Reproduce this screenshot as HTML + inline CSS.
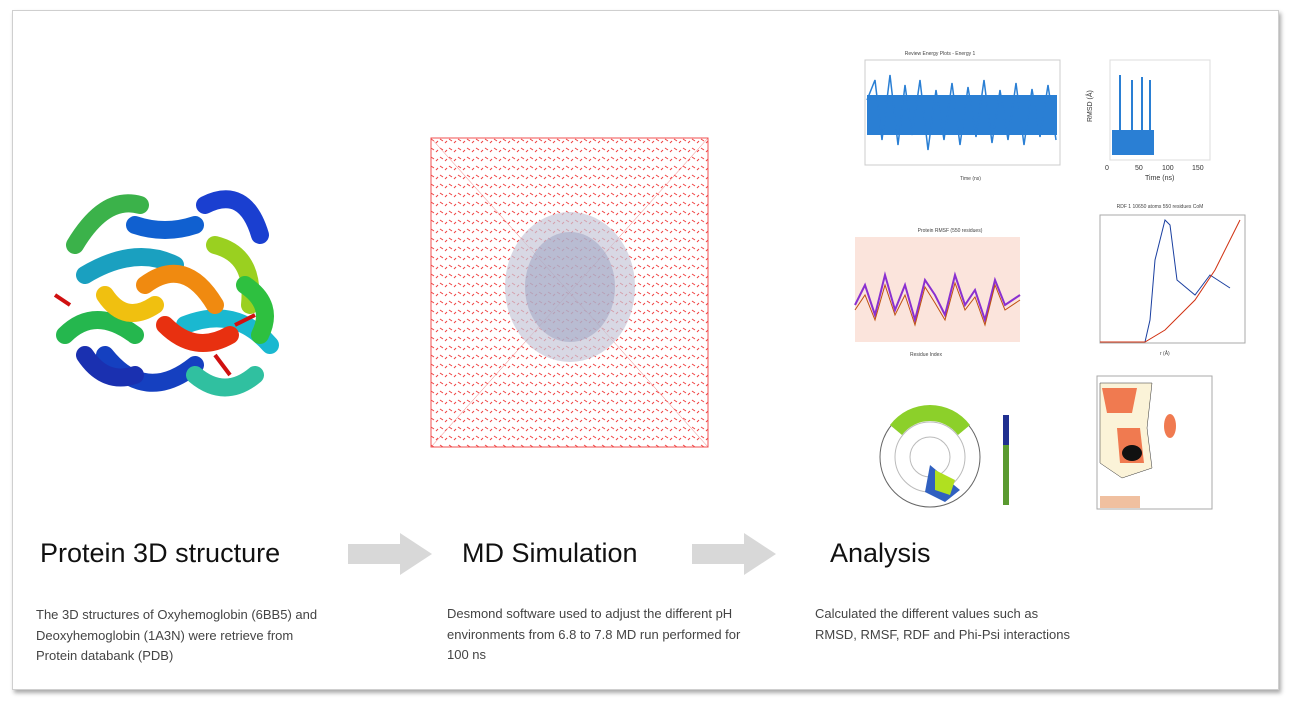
<!DOCTYPE html>
<html><head><meta charset="utf-8"><style>
body{margin:0;width:1290px;height:704px;background:#fff;position:relative;overflow:hidden;font-family:"Liberation Sans",sans-serif}
.frame{position:absolute;left:12px;top:10px;width:1265px;height:678px;border:1px solid #cfcfcf;box-shadow:2px 3px 4px #aaa;background:#fff}
.t{position:absolute;font-size:27px;color:#111}
.d{position:absolute;font-size:13px;color:#444;line-height:20.5px}
.arrow{position:absolute}
</style></head><body>
<div class="frame"></div>

<!-- Protein -->
<svg style="position:absolute;left:45px;top:185px" width="245" height="230">
<g fill="none" stroke-width="18" stroke-linecap="round">
<path d="M30 60 Q60 10 95 20" stroke="#3bb24a"/>
<path d="M160 20 Q200 0 215 50" stroke="#1a3fd0"/>
<path d="M40 90 Q90 60 130 80" stroke="#1aa0c0"/>
<path d="M20 150 Q50 120 90 150" stroke="#25b74e"/>
<path d="M60 170 Q100 220 150 180" stroke="#1540c0"/>
<path d="M140 140 Q190 120 225 160" stroke="#1ab8d0"/>
<path d="M100 100 Q140 70 170 120" stroke="#f08a10"/>
<path d="M120 140 Q150 170 185 150" stroke="#e83010"/>
<path d="M170 60 Q210 70 205 120" stroke="#9ad020"/>
<path d="M60 110 Q80 140 110 120" stroke="#f0c010"/>
<path d="M150 190 Q180 215 210 190" stroke="#30c0a0"/>
<path d="M200 100 Q230 120 215 150" stroke="#2ec040"/>
<path d="M90 40 Q120 50 150 40" stroke="#1060d0"/>
<path d="M40 170 Q60 200 90 190" stroke="#1a30b0"/>
</g>
<path d="M10 110 l15 10 M190 140 l20 -10 M170 170 l15 20" stroke="#d01010" stroke-width="4"/>
</svg>

<!-- MD box -->
<svg style="position:absolute;left:430px;top:137px" width="280" height="312">
<defs><pattern id="p" width="9" height="9" patternUnits="userSpaceOnUse"><path d="M1 2 l3 2 M6 6 l2 -2" stroke="#f04040" stroke-width="1"/></pattern></defs>
<rect x="1" y="1" width="277" height="309" fill="url(#p)" stroke="#f05050"/>
<line x1="1" y1="1" x2="278" y2="310" stroke="#f07070" stroke-width=".5"/>
<line x1="278" y1="1" x2="1" y2="310" stroke="#f07070" stroke-width=".5"/>
<ellipse cx="140" cy="150" rx="65" ry="75" fill="#c8c8d8" opacity=".7"/>
<ellipse cx="140" cy="150" rx="45" ry="55" fill="#9aa0c0" opacity=".5"/>
</svg>

<!-- energy plot -->
<svg style="position:absolute;left:830px;top:45px" width="240" height="145" font-size="5" fill="#444">
<text x="110" y="10" text-anchor="middle">Review Energy Plots - Energy 1</text>
<rect x="35" y="15" width="195" height="105" fill="#fff" stroke="#ccc"/>
<rect x="37" y="50" width="190" height="40" fill="#2a7fd4"/>
<polyline points="37,55 45,35 52,95 60,30 68,100 75,40 82,90 90,35 98,105 106,45 114,95 122,38 130,100 138,42 146,92 154,35 162,98 170,45 178,95 186,38 194,100 202,44 210,92 218,40 226,95" stroke="#2a7fd4" fill="none" stroke-width="1.5"/>
<text x="130" y="135">Time (ns)</text>
</svg>
<svg style="position:absolute;left:1080px;top:55px" width="150" height="130" font-size="7" fill="#333">
<rect x="30" y="5" width="100" height="100" fill="#fff" stroke="#ddd"/>
<text x="5" y="60" transform="rotate(-90 12 60)">RMSD (Å)</text>
<rect x="32" y="75" width="42" height="25" fill="#2a7fd4"/>
<path d="M40 100V20M52 100V25M62 100V22M70 100V25" stroke="#2a7fd4" stroke-width="2"/>
<text x="25" y="115">0</text><text x="55" y="115">50</text><text x="82" y="115">100</text><text x="112" y="115">150</text>
<text x="65" y="125">Time (ns)</text>
</svg>

<!-- RMSF -->
<svg style="position:absolute;left:840px;top:225px" width="200" height="135" font-size="5" fill="#444">
<text x="110" y="7" text-anchor="middle">Protein RMSF (550 residues)</text>
<rect x="15" y="12" width="165" height="105" fill="#fbe4dc"/>
<polyline points="15,80 25,60 35,90 45,50 55,85 65,60 75,95 85,55 95,70 105,90 115,50 125,80 135,65 145,95 155,55 165,80 180,70" fill="none" stroke="#8a30d0" stroke-width="2"/>
<polyline points="15,85 25,70 35,95 45,60 55,90 65,70 75,100 85,62 95,78 105,95 115,58 125,85 135,72 145,100 155,60 165,85 180,75" fill="none" stroke="#c05010" stroke-width="1"/>
<text x="70" y="131">Residue Index</text>
</svg>

<!-- RDF -->
<svg style="position:absolute;left:1085px;top:200px" width="180" height="160" font-size="5" fill="#444">
<text x="75" y="8" text-anchor="middle">RDF 1 10650 atoms 550 residues CoM</text>
<rect x="15" y="15" width="145" height="128" fill="#fff" stroke="#aaa"/>
<polyline points="15,142 60,142 65,120 70,60 80,20 85,25 92,80 110,95 125,75 145,88" fill="none" stroke="#1a3fa0"/>
<polyline points="15,142 60,142 80,130 110,100 130,70 155,20" fill="none" stroke="#d03010"/>
<text x="75" y="155">r (Å)</text>
</svg>

<!-- polar -->
<svg style="position:absolute;left:870px;top:395px" width="160" height="130" font-size="5" fill="#444">
<circle cx="60" cy="62" r="50" fill="none" stroke="#666"/>
<circle cx="60" cy="62" r="35" fill="none" stroke="#bbb"/>
<circle cx="60" cy="62" r="20" fill="none" stroke="#bbb"/>
<path d="M20 30 A50 50 0 0 1 100 30 L88 40 A35 35 0 0 0 32 40Z" fill="#8cd02a"/>
<path d="M60 70 l30 25 l-15 12 l-20 -10Z" fill="#3060c0"/>
<path d="M65 75 l20 10 l-5 15 l-15 -5Z" fill="#b0e020"/>
<rect x="133" y="20" width="6" height="90" fill="#5a9a30"/>
<rect x="133" y="20" width="6" height="30" fill="#203090"/>
</svg>

<!-- Ramachandran -->
<svg style="position:absolute;left:1082px;top:368px" width="140" height="155" font-size="5" fill="#444">
<rect x="15" y="8" width="115" height="133" fill="#fff" stroke="#aaa"/>
<path d="M18 15 L70 15 L65 60 L70 100 L40 110 L18 95Z" fill="#fbf3d8" stroke="#333" stroke-width=".5"/>
<path d="M20 20 L55 20 L50 45 L25 45Z" fill="#f07a50"/>
<path d="M35 60 L58 60 L62 95 L38 95Z" fill="#f07a50"/>
<ellipse cx="50" cy="85" rx="10" ry="8" fill="#111"/>
<ellipse cx="88" cy="58" rx="6" ry="12" fill="#f07a50"/>
<rect x="18" y="128" width="40" height="12" fill="#f0c0a0"/>
</svg>

<!-- Titles -->
<div class="t" style="left:40px;top:538px">Protein 3D structure</div>
<div class="t" style="left:462px;top:538px">MD Simulation</div>
<div class="t" style="left:830px;top:538px">Analysis</div>

<svg class="arrow" style="left:348px;top:533px" width="85" height="42"><polygon points="0,11 52,11 52,0 84,21 52,42 52,31 0,31" fill="#d8d8d8"/></svg>
<svg class="arrow" style="left:692px;top:533px" width="85" height="42"><polygon points="0,11 52,11 52,0 84,21 52,42 52,31 0,31" fill="#d8d8d8"/></svg>

<div class="d" style="left:36px;top:605px;width:300px">The 3D structures of Oxyhemoglobin (6BB5) and Deoxyhemoglobin (1A3N) were retrieve from Protein databank (PDB)</div>
<div class="d" style="left:447px;top:604px;width:315px">Desmond software used to adjust the different pH environments from 6.8 to 7.8 MD run performed for 100 ns</div>
<div class="d" style="left:815px;top:604px;width:255px">Calculated the different values such as RMSD, RMSF, RDF and Phi-Psi interactions</div>
</body></html>
